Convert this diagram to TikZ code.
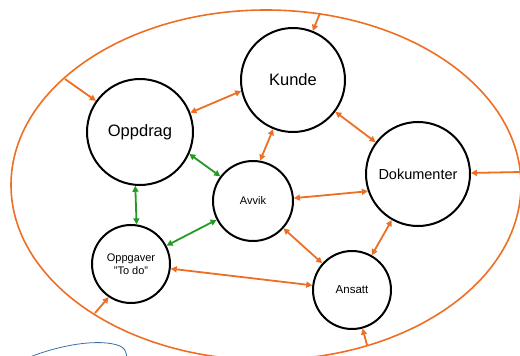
\documentclass[tikz,border=0pt]{standalone}
\usepackage{fontspec}
\setmainfont{Liberation Sans}
\usetikzlibrary{arrows.meta}
\definecolor{linkorange}{RGB}{238,110,35}
\definecolor{linkgreen}{RGB}{35,155,35}
\definecolor{penblue}{RGB}{60,110,165}

\begin{document}
\begin{tikzpicture}[x=1pt, y=-1pt, >={Triangle[length=6pt,width=6pt]},
  topic/.style={draw, circle, line width=2pt, inner sep=0pt, align=center},
  olink/.style={linkorange, line width=1.8pt},
  glink/.style={linkgreen, line width=1.8pt}]
\useasboundingbox (0,0) rectangle (520,356);
% the big ring around everything
\draw [linkorange, line width=1.6pt] (266,185) ellipse [x radius=255pt, y radius=175pt];
\coordinate (e-left) at (65,79);
\coordinate (e-top) at (320,13);
\coordinate (e-right) at (521,172);
\coordinate (e-bottom) at (367,345);
\coordinate (e-lowleft) at (95,313);
% circles
\node [topic, minimum size=106pt, font=\fontsize{16.5}{18}\selectfont] (oppdrag) at (140,132) {Oppdrag};
\node [topic, minimum size=104pt, font=\fontsize{16.5}{18}\selectfont] (kunde) at (293,80) {Kunde};
\node [topic, minimum size=104pt, font=\fontsize{14.5}{16}\selectfont] (dokumenter) at (418,174) {Dokumenter};
\node [topic, minimum size=80pt, font=\fontsize{11}{13}\selectfont] (avvik) at (253,201) {Avvik};
\node [topic, minimum size=78pt, font=\fontsize{11}{13}\selectfont] (oppgaver) at (131,264) {Oppgaver\\"To do"};
\node [topic, minimum size=78pt, font=\fontsize{11.5}{13}\selectfont] (ansatt) at (352,290) {Ansatt};
% from the ring inwards
\draw [->, olink] (e-left) -- (oppdrag);
\draw [->, olink] (e-top) -- (kunde);
\draw [->, olink] (e-right) -- (dokumenter);
\draw [->, olink] (e-bottom) -- (ansatt);
\draw [->, olink] (e-lowleft) -- (oppgaver.236);
% between the circles
\draw [<->, olink] (oppdrag.21) -- (kunde.192);
\draw [<->, olink] (kunde) -- (dokumenter);
\draw [<->, olink] (kunde.248) -- (avvik.80);
\draw [<->, olink] (avvik.4) -- (dokumenter.199);
\draw [<->, olink] (avvik) -- (ansatt);
\draw [<->, olink] (dokumenter) -- (ansatt);
\draw [<->, olink] (oppgaver) -- (ansatt);
\draw [<->, glink] (oppdrag.336) -- (avvik.143);
\draw [<->, glink] (oppdrag.265) -- (oppgaver.82);
\draw [<->, glink] (avvik) -- (oppgaver);
% pen stroke at the bottom
\draw [penblue, line width=0.8pt] (30,357) .. controls (60,345) and (100,338) .. (120,346) .. controls (125,349) .. (127,357);
\end{tikzpicture}
\end{document}
